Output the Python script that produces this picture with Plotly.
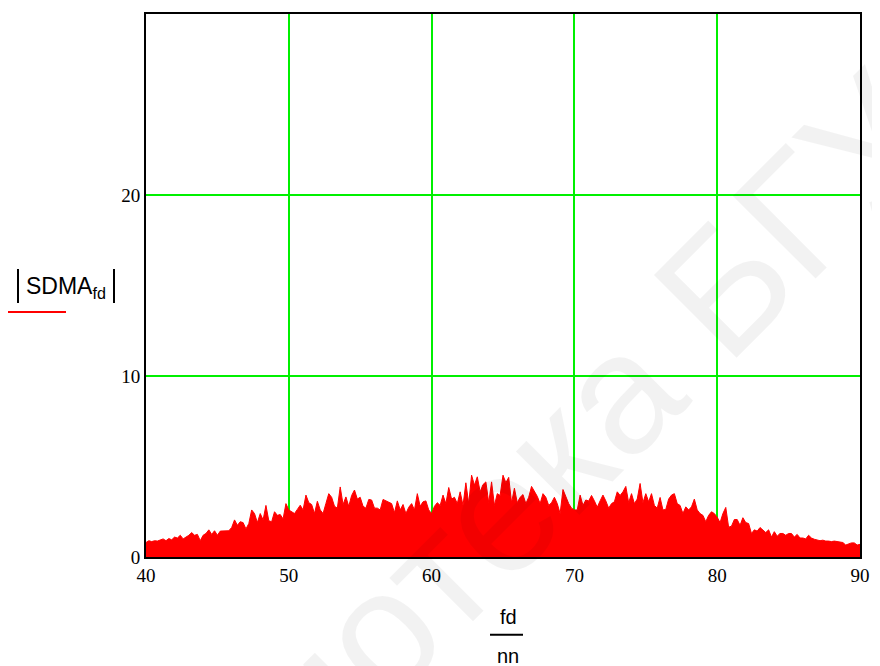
import plotly.graph_objects as go

mag_40_50 = [0.8, 0.9, 0.85, 0.9, 0.88, 0.95, 1.0, 0.9, 1.02, 0.95,
             1.1, 1.05, 1.2, 1.0, 1.1, 1.2, 1.35, 1.2, 1.25, 0.9,
             1.2, 1.3, 1.5, 1.25, 1.45, 1.2, 1.43, 1.43, 1.43, 1.45,
             1.63, 2.05, 1.75, 1.95, 1.9, 1.55, 1.85, 2.6, 2.4, 1.9,
             2.4, 2.05, 2.85, 2.0, 1.95, 2.5, 2.3, 2.35, 2.1, 2.95]
mag_50_60 = [2.6, 2.5, 2.4, 2.63, 2.86, 2.6, 3.42, 3.0, 2.9, 2.4,
             3.08, 2.6, 2.4, 2.96, 3.5, 3.3, 2.8, 2.7, 3.87, 2.9,
             3.32, 2.8, 3.4, 3.7, 3.2, 3.3, 2.8, 2.7, 3.18, 3.15,
             2.7, 2.7, 2.6, 3.18, 3.1, 3.0, 2.95, 2.45, 3.1, 2.6,
             2.9, 2.4, 2.75, 2.95, 2.6, 3.5, 2.8, 3.05, 3.1, 2.6]
mag_60_70 = [2.4, 2.8, 3.0, 2.85, 3.42, 2.95, 3.84, 3.2, 3.3, 2.95,
             3.6, 2.85, 4.1, 2.95, 4.52, 3.97, 4.43, 3.6, 4.0, 4.15,
             3.0, 4.15, 2.85, 3.5, 3.4, 4.52, 4.1, 4.4, 3.0, 3.8,
             3.0, 3.3, 3.45, 2.95, 3.3, 3.9, 3.6, 3.35, 2.95, 3.5,
             3.3, 2.85, 3.0, 3.3, 2.95, 2.4, 3.73, 3.3, 2.95, 2.7]
mag_70_80 = [2.6, 2.6, 3.42, 2.85, 3.15, 3.1, 3.4, 3.1, 2.75, 3.1,
             3.42, 3.1, 2.7, 2.95, 3.05, 3.6, 3.4, 3.6, 3.9, 3.0,
             3.5, 2.95, 3.2, 4.06, 3.0, 3.5, 3.05, 3.5, 2.85, 2.7,
             3.29, 2.6, 2.63, 3.2, 3.42, 3.5, 2.95, 2.85, 2.4, 2.77,
             2.6, 2.77, 3.2, 2.6, 2.4, 2.3, 1.95, 2.3, 2.5, 2.4]
mag_80_90 = [2.2, 1.9, 2.4, 2.74, 1.65, 1.7, 2.07, 2.07, 1.75, 2.17,
             1.9, 1.85, 1.3, 1.5, 1.43, 1.63, 1.5, 1.35, 1.5, 1.1,
             1.4, 1.15, 1.3, 1.3, 1.2, 1.3, 1.3, 1.1, 1.25, 1.05,
             1.05, 1.0, 1.2, 1.05, 0.98, 0.95, 0.9, 0.93, 0.88, 0.88,
             0.85, 0.88, 0.85, 0.82, 0.8, 0.66, 0.72, 0.78, 0.78, 0.66,
             0.7]

mag = mag_40_50 + mag_50_60 + mag_60_70 + mag_70_80 + mag_80_90
f_start, f_step = 40.0, 0.2
freq = [round(f_start + f_step * i, 2) for i in range(len(mag))]

x_ticks = [40, 50, 60, 70, 80, 90]
y_ticks = [0, 10, 20]

# page offset from the default body margin
OFF = 8
# wanted plot area in page pixels
L, R, T, B = 146, 860, 12, 557
def px(x):
    return (x - L) / (R - L)
def py(y):
    return (B - y) / (B - T)

fig = go.Figure()
fig.add_trace(go.Scatter(
    x=freq, y=mag, mode="lines", fill="tozeroy",
    line=dict(color="#ff0000", width=1), fillcolor="#ff0000",
    hoverinfo="skip", showlegend=False))

serif = "Liberation Serif, Times New Roman, serif"
sans = "Liberation Sans, Arial, sans-serif"
grid = "#00f000"

fig.update_layout(
    width=880, height=666,
    margin=dict(l=L - OFF, r=880 - (R - OFF), t=T - OFF, b=666 - (B - OFF)),
    paper_bgcolor="white", plot_bgcolor="white",
    showlegend=False,
    xaxis=dict(range=[40, 90], tickvals=x_ticks, ticktext=[str(v) for v in x_ticks],
               showgrid=True, gridcolor=grid, gridwidth=2,
               zeroline=False, showline=True, linecolor="black", linewidth=2,
               mirror=True, ticks="", tickfont=dict(family=serif, size=19, color="black")),
    yaxis=dict(range=[0, 30], tickvals=y_ticks, ticktext=[str(v) for v in y_ticks],
               showgrid=True, gridcolor=grid, gridwidth=2,
               zeroline=False, showline=True, linecolor="black", linewidth=2,
               mirror=True, ticks="", ticklabelstandoff=0,
               tickfont=dict(family=serif, size=19, color="black")),
)

def label(xp, yp, text, size=20, **kw):
    fig.add_annotation(x=px(xp), y=py(yp), xref="paper", yref="paper",
                       xanchor="center", yanchor="middle",
                       text=text, showarrow=False,
                       font=dict(family=sans, size=size, color="black"), **kw)

def seg(x0, y0, x1, y1, color="black", width=2):
    fig.add_shape(type="line", xref="paper", yref="paper",
                  x0=px(x0), x1=px(x1), y0=py(y0), y1=py(y1),
                  line=dict(color=color, width=width))

# y-axis label |SDMA_fd| with tall absolute-value bars and red legend line
label(66, 287, "SDMA<sub>fd</sub>", size=23)
seg(18, 268, 18, 302)
seg(114, 268, 114, 302)
seg(8, 311, 66, 311, color="#ff0000")
# x-axis label fd / nn
label(508, 617, "fd")
seg(490, 635, 523, 635)
label(508, 656, "nn")

# faint diagonal watermark
fig.add_annotation(x=px(535), y=py(476), xref="paper", yref="paper",
                   xanchor="center", yanchor="middle",
                   text="Библиотека БГУИР", showarrow=False, textangle=-45,
                   font=dict(family=sans, size=170, color="rgba(0,0,0,0.05)"))

fig.write_html("out.html")
